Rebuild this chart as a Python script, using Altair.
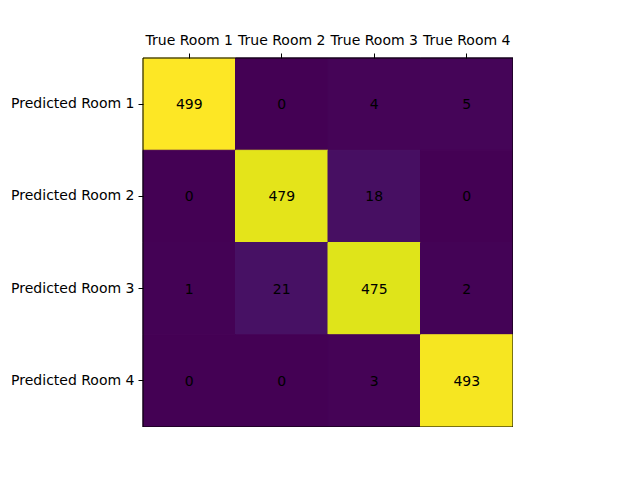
import altair as alt
import pandas as pd

true_labels = ["True Room 1", "True Room 2", "True Room 3", "True Room 4"]
pred_labels = ["Predicted Room 1", "Predicted Room 2", "Predicted Room 3", "Predicted Room 4"]
matrix = [
    [499, 0, 4, 5],
    [0, 479, 18, 0],
    [1, 21, 475, 2],
    [0, 0, 3, 493],
]

rows = []
for i, p in enumerate(pred_labels):
    for j, t in enumerate(true_labels):
        rows.append({"pred": p, "true": t, "count": matrix[i][j]})
df = pd.DataFrame(rows)

xscale = alt.Scale(domain=true_labels, paddingInner=0, paddingOuter=0)
yscale = alt.Scale(domain=pred_labels, paddingInner=0, paddingOuter=0)
cscale = alt.Scale(scheme="viridis", domain=[0, 499])

common_axis = dict(domain=False, grid=False, zindex=2,
                   tickColor="black", tickSize=5, tickWidth=1,
                   labelColor="black", labelFont="DejaVu Sans", labelFontSize=14,
                   title=None, labelAngle=0)

base = alt.Chart(df)

rects = base.mark_rect(strokeWidth=1).encode(
    x=alt.X("true:N", scale=xscale, axis=alt.Axis(orient="top", labelPadding=6, **common_axis)),
    y=alt.Y("pred:N", scale=yscale, axis=alt.Axis(orient="left", labelPadding=4, **common_axis)),
    color=alt.Color("count:Q", scale=cscale, legend=None),
    stroke=alt.Stroke("count:Q", scale=cscale, legend=None),
)

texts = base.mark_text(font="DejaVu Sans", fontSize=14, color="black", baseline="middle", dy=1).encode(
    x=alt.X("true:N", scale=xscale, axis=alt.Axis(orient="bottom", labels=False, **common_axis)),
    y=alt.Y("pred:N", scale=yscale),
    text=alt.Text("count:Q"),
)

frame = alt.Chart(pd.DataFrame({"f": [0]})).mark_rect(fill=None, stroke="black", strokeWidth=1).encode(
    x=alt.value(0), x2=alt.value({"expr": "width"}),
    y=alt.value(0), y2=alt.value({"expr": "height"}),
)

chart = alt.layer(rects, texts, frame).resolve_axis(x="independent").properties(
    width=370, height=369,
    autosize=alt.AutoSizeParams(type="none"),
    padding={"left": 143, "top": 58, "right": 0, "bottom": 0},
).configure_view(stroke=None).configure(background="white")

chart.save("out.html", embed_options={"renderer": "svg", "actions": False})
